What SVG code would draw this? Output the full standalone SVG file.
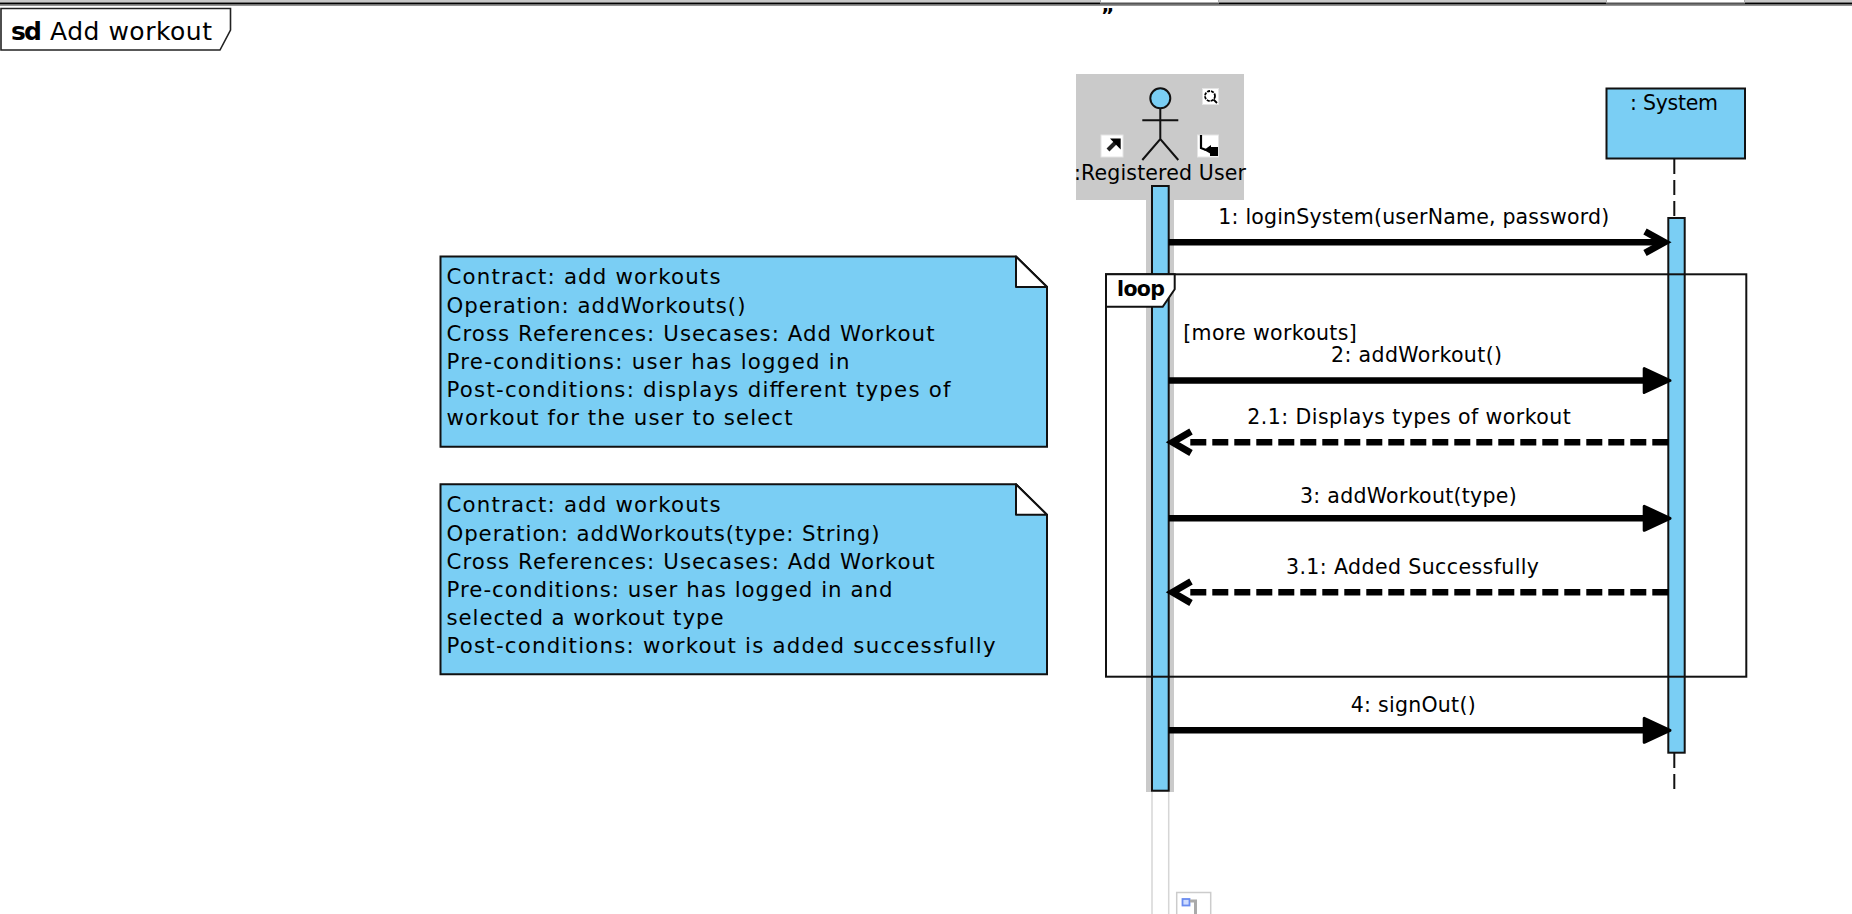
<svg xmlns="http://www.w3.org/2000/svg" width="1852" height="914" viewBox="0 0 1852 914">
<style>
text{font-family:"DejaVu Sans",Verdana,sans-serif;font-size:20.5px;fill:#000}
.b{font-weight:700}
.n{font-size:21.3px}
.box{fill:#7ACEF4;stroke:#111;stroke-width:2}
.ln{stroke:#000;stroke-width:6.400;fill:none}
.dash{stroke:#000;stroke-width:6.400;fill:none;stroke-dasharray:16 6}
.open{stroke:#000;stroke-width:6.800;fill:none;stroke-linejoin:miter}
.tri{fill:#000;stroke:#000;stroke-width:3;stroke-linejoin:round}
.halo{fill:#CACACA}
.thin{stroke:#111;stroke-width:2;fill:none}
.ll{stroke:#111;stroke-width:2;stroke-dasharray:15 6;fill:none}
.icon{fill:#fff;stroke:#e4e4e4;stroke-width:1}
</style>
<rect width="1852" height="914" fill="#fff"/>
<g id="chrome">
<rect x="0" y="0" width="1852" height="2.500" fill="#c8c8c8"/>
<rect x="0" y="2.500" width="1852" height="2" fill="#000"/>
<rect x="0" y="4.500" width="1852" height="1.200" fill="#666"/>
<rect x="1100" y="0" width="119" height="3.500" fill="#aaa"/>
<rect x="1101" y="0" width="117" height="2" fill="#fff"/>
<rect x="1606" y="0" width="139" height="3.500" fill="#aaa"/>
<rect x="1607" y="0" width="137" height="2" fill="#fff"/>
<text class="b" x="1101" y="22" style="font-size:20px">”</text>
</g>
<g id="frame-sd">
<path d="M1 8.500H230.500V30L220 50H1Z" fill="#fff" stroke="#222" stroke-width="1.600"/>
<text class="b" x="11" y="39.500" style="font-size:25px" textLength="31">sd</text>
<text x="50" y="39.500" style="font-size:25px" textLength="162">Add workout</text>
</g>
<g id="actor-registered-user">
<rect class="halo" x="1076" y="74" width="168" height="126"/>
<rect class="halo" x="1146" y="200" width="28" height="592"/>
<path d="M1152 792V914M1168.700 792V914" stroke="#d6d6d6" stroke-width="1.500" fill="none"/>
<circle cx="1160.300" cy="98.300" r="10" fill="#7ACEF4" stroke="#111" stroke-width="2"/>
<path class="thin" d="M1160.300 108.500V139M1142.300 120.300H1178.300M1142.300 160L1160.300 139L1178.300 160"/>
<g id="icon-search">
<rect class="icon" x="1202.500" y="88.500" width="16" height="16"/>
<circle cx="1210" cy="96" r="5" fill="none" stroke="#000" stroke-width="1.800" stroke-dasharray="3 1"/>
<path d="M1213.500 99.500L1217 103" stroke="#000" stroke-width="1.800"/>
</g>
<g id="icon-arrow">
<rect class="icon" x="1101" y="135" width="22" height="22"/>
<path d="M1108 150L1116 142" stroke="#222" stroke-width="4"/>
<path d="M1110 138.500H1120.700V149.500Z" fill="#000"/>
</g>
<g id="icon-return">
<rect class="icon" x="1197.500" y="135" width="21" height="22"/>
<path d="M1201 135V148L1206 150" stroke="#000" stroke-width="2.200" fill="none"/>
<path d="M1204 150L1211 145V154Z" fill="#000"/>
<rect x="1210" y="147" width="8" height="9" fill="#000"/>
</g>
<text x="1074" y="180" textLength="172">:Registered User</text>
<rect class="box" x="1152" y="186" width="16.700" height="604.700"/>
<g id="icon-note">
<rect x="1176.700" y="892.500" width="34" height="24" fill="#fff" stroke="#ccc" stroke-width="1.500"/>
<rect x="1182.500" y="899" width="7" height="6.500" fill="#cfdcff" stroke="#6a8cf0" stroke-width="1.800"/>
<path d="M1190 901H1195.500V914" stroke="#aaa" stroke-width="3" fill="none"/>
</g>
</g>
<g id="system">
<rect class="box" x="1606.500" y="88.500" width="138.500" height="70"/>
<text x="1630" y="110" textLength="88">: System</text>
<path class="ll" d="M1674.300 159V218"/>
<rect class="box" x="1668.300" y="218" width="16.400" height="534.700"/>
<path class="ll" d="M1674.300 753V791"/>
</g>
<g id="connectors">
<path class="ln" d="M1168.700 242.300H1660"/>
<path class="open" d="M1645 231.500L1664.500 242.300L1645 253"/>
<path class="ln" d="M1168.700 380.500H1650"/>
<path class="tri" d="M1644.200 368.500L1670 380.500L1644.200 392.500Z"/>
<path class="dash" d="M1668.300 442.300H1190"/>
<path class="open" d="M1191 431.500L1172.500 442.300L1191 453"/>
<path class="ln" d="M1168.700 518.300H1650"/>
<path class="tri" d="M1644.200 506.300L1670 518.300L1644.200 530.300Z"/>
<path class="dash" d="M1668.300 592.300H1190"/>
<path class="open" d="M1191 581.500L1172.500 592.300L1191 603"/>
<path class="ln" d="M1168.700 730.300H1650"/>
<path class="tri" d="M1644.200 718.300L1670 730.300L1644.200 742.300Z"/>
</g>
<g id="loop-frame">
<rect class="thin" x="1106" y="274.300" width="640.300" height="402.400"/>
<path d="M1106 274.300H1174.700V289.300L1162.700 306.700H1106Z" fill="#fff" stroke="#111" stroke-width="2"/>
<text class="b" x="1117" y="296" textLength="48">loop</text>
<text x="1183.300" y="340" textLength="173.400">[more workouts]</text>
</g>
<g id="labels">
<text x="1218.300" y="224" textLength="391">1: loginSystem(userName, password)</text>
<text x="1331" y="361.700" textLength="171">2: addWorkout()</text>
<text x="1247.300" y="424" textLength="323.400">2.1: Displays types of workout</text>
<text x="1300" y="503" textLength="216.700">3: addWorkout(type)</text>
<text x="1286" y="574" textLength="253">3.1: Added Successfully</text>
<text x="1350.700" y="711.700" textLength="125">4: signOut()</text>
</g>
<g id="note-1">
<path class="box" d="M440.500 256.500H1016L1047 287V446.700H440.500Z"/>
<path d="M1016 256.500L1047 287H1016Z" fill="#fff" stroke="#111" stroke-width="2" stroke-linejoin="round"/>
<text class="n" x="446.500" y="284.300" textLength="274">Contract: add workouts</text>
<text class="n" x="446.500" y="312.500" textLength="299">Operation: addWorkouts()</text>
<text class="n" x="446.500" y="340.700" textLength="488">Cross References: Usecases: Add Workout</text>
<text class="n" x="446.500" y="368.900" textLength="403">Pre-conditions: user has logged in</text>
<text class="n" x="446.500" y="397.100" textLength="504">Post-conditions: displays different types of</text>
<text class="n" x="446.500" y="425.300" textLength="346">workout for the user to select</text>
</g>
<g id="note-2">
<path class="box" d="M440.500 484.300H1016L1047 514.800V674.300H440.500Z"/>
<path d="M1016 484.300L1047 514.800H1016Z" fill="#fff" stroke="#111" stroke-width="2" stroke-linejoin="round"/>
<text class="n" x="446.500" y="512.300" textLength="274">Contract: add workouts</text>
<text class="n" x="446.500" y="540.500" textLength="433">Operation: addWorkouts(type: String)</text>
<text class="n" x="446.500" y="568.700" textLength="488">Cross References: Usecases: Add Workout</text>
<text class="n" x="446.500" y="596.900" textLength="446">Pre-conditions: user has logged in and</text>
<text class="n" x="446.500" y="625.100" textLength="277">selected a workout type</text>
<text class="n" x="446.500" y="653.300" textLength="549">Post-conditions: workout is added successfully</text>
</g>
</svg>
